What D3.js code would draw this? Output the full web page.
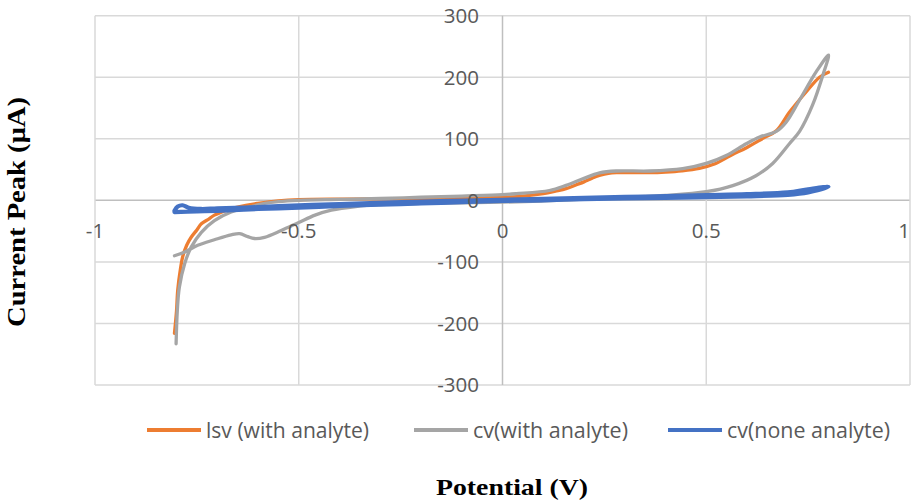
<!DOCTYPE html>
<html><head><meta charset="utf-8">
<script src="https://cdn.jsdelivr.net/npm/d3@7"></script>
<style>body{margin:0;background:#fff}svg{display:block}</style>
</head><body>
<script>
// ---- data ----
const xTicks = [-1, -0.5, 0, 0.5, 1];
const yTicks = [-300, -200, -100, 0, 100, 200, 300];
const seriesNames = ["lsv (with analyte)", "cv(with analyte)", "cv(none analyte)"];
const seriesColors = ["#ED7D31", "#A5A5A5", "#4472C4"];

const lsvX = [-0.805,-0.800,-0.797,-0.790,-0.785,-0.775,-0.764,-0.750,-0.739,-0.720,-0.707,-0.685,-0.666,-0.630,-0.601,-0.550,-0.500,-0.400,-0.300,-0.200,-0.100,0.000,0.050,0.100,0.130,0.156,0.180,0.200,0.220,0.240,0.260,0.280,0.320,0.360,0.400,0.440,0.483,0.520,0.560,0.600,0.640,0.672,0.704,0.745,0.778,0.800];
const lsvY = [-216,-180,-146,-110,-92,-73,-60,-48,-38,-30,-24,-18,-13.5,-8,-5,-1,1,2,2.5,3,4,5,7,11,15,19,25,30,36,41,44,45,45,45,46,48,52,59,73,86,101,113,143,176,200,208];

const cvX = [-0.805,-0.780,-0.748,-0.707,-0.666,-0.645,-0.625,-0.609,-0.584,-0.543,-0.500,-0.460,-0.420,-0.360,-0.300,-0.200,-0.100,0.000,0.100,0.200,0.300,0.400,0.500,0.565,0.622,0.663,0.704,0.729,0.761,0.786,0.800,
  0.770,0.729,0.696,0.672,0.631,0.598,0.549,0.500,0.442,0.361,0.279,0.238,0.197,0.156,0.115,0.034,0.000,-0.100,-0.200,-0.300,-0.400,-0.500,-0.550,-0.584,-0.633,-0.666,-0.707,-0.739,-0.764,-0.780,-0.793,-0.798,-0.801];
const cvY = [-90,-84,-73,-64,-56,-54,-59,-62,-60,-49,-36,-24,-16,-10,-7,-5,-4,-3,-1,2,5,8,14,24,40,60,92,112,155,203,236,
  209,163,127,112,103,92,73,60,51.5,47.7,47.7,44.5,35,24.4,16,10.8,9.2,7,5,3,1.5,0,-2,-5,-13,-19,-33,-52,-76,-103,-141,-179,-233];

const noneX = [-0.805,-0.750,-0.700,-0.600,-0.500,-0.400,-0.300,-0.200,-0.100,0.000,0.100,0.200,0.300,0.400,0.500,0.600,0.700,0.750,0.800,
  0.750,0.700,0.600,0.500,0.400,0.300,0.200,0.100,0.000,-0.200,-0.400,-0.500,-0.600,-0.700,-0.740,-0.770,-0.785,-0.797,-0.805];
const noneY = [-19,-18,-17,-14,-12,-9,-7,-5,-3,-1,0,2,3,4,5,6.5,9,13,22,
  18,13,10,8.5,7,5.5,4,2.5,1,-2,-6,-8,-11,-13,-14,-12,-8,-10,-17];

const seriesX = [lsvX, cvX, noneX];
const seriesY = [lsvY, cvY, noneY];

// ---- chart ----
const W = 911, H = 502;
const svg = d3.select("body").append("svg").attr("width", W).attr("height", H);
svg.append("rect").attr("width", W).attr("height", H).attr("fill", "#fff");

const x = d3.scaleLinear().domain([-1, 1]).range([95, 910]);
const y = d3.scaleLinear().domain([-300, 300]).range([385, 15.7]);

const grid = svg.append("g");
grid.selectAll("line.h").data(yTicks).join("line")
  .attr("x1", x(-1)).attr("x2", x(1))
  .attr("y1", d => y(d)).attr("y2", d => y(d))
  .attr("stroke", d => d === 0 ? "#bfbfbf" : "#d9d9d9").attr("stroke-width", 1.5);
grid.selectAll("line.v").data(xTicks).join("line")
  .attr("y1", y(300)).attr("y2", y(-300))
  .attr("x1", d => x(d)).attr("x2", d => x(d))
  .attr("stroke", d => d === 0 ? "#bfbfbf" : "#d9d9d9").attr("stroke-width", 1.5);

const line = d3.line().curve(d3.curveCatmullRom.alpha(0.5));
const lw = [3.3, 3.3, 4.2];
seriesX.forEach((xs, i) => {
  const pts = xs.map((v, j) => [x(v), y(seriesY[i][j])]);
  svg.append("path").attr("d", line(pts))
    .attr("fill", "none").attr("stroke", seriesColors[i])
    .attr("stroke-width", lw[i]).attr("stroke-linejoin", "round").attr("stroke-linecap", "round");
});

const tickFont = "'Open Sans', 'Liberation Sans', sans-serif";
svg.append("g").selectAll("text").data(yTicks).join("text")
  .attr("x", 479).attr("y", d => y(d)).attr("dy", "0.36em")
  .attr("text-anchor", "end").attr("font-family", tickFont).attr("font-size", 20.5)
  .attr("fill", "#595959").text(d => d);
svg.append("g").selectAll("text").data(xTicks).join("text")
  .attr("x", d => d === 1 ? W - 1 : x(d)).attr("y", 231).attr("dy", "0.36em")
  .attr("text-anchor", d => d === 1 ? "end" : "middle")
  .attr("font-family", tickFont).attr("font-size", 20.5)
  .attr("fill", "#595959").text(d => d);

// legend
const legLineX = [147, 414, 668];
const legTextLen = [163, 155, 163];
seriesNames.forEach((name, i) => {
  const g = svg.append("g");
  g.append("line").attr("x1", legLineX[i]).attr("x2", legLineX[i] + 54)
    .attr("y1", 430).attr("y2", 430).attr("stroke", seriesColors[i]).attr("stroke-width", 4);
  g.append("text").attr("x", legLineX[i] + 59).attr("y", 438)
    .attr("font-family", tickFont).attr("font-size", 21).attr("fill", "#595959")
    .attr("textLength", legTextLen[i]).attr("lengthAdjust", "spacingAndGlyphs")
    .text(name);
});

// axis titles
svg.append("text").attr("x", 512).attr("y", 495).attr("text-anchor", "middle")
  .attr("font-family", "'Liberation Serif', 'Times New Roman', serif").attr("font-weight", "bold")
  .attr("font-size", 24).attr("textLength", 152).attr("lengthAdjust", "spacingAndGlyphs")
  .text("Potential (V)");
svg.append("text").attr("transform", "translate(25,212) rotate(-90)").attr("text-anchor", "middle")
  .attr("font-family", "'Liberation Serif', 'Times New Roman', serif").attr("font-weight", "bold")
  .attr("font-size", 25).attr("textLength", 230).attr("lengthAdjust", "spacingAndGlyphs")
  .text("Current Peak (μA)");
</script>
</body></html>
